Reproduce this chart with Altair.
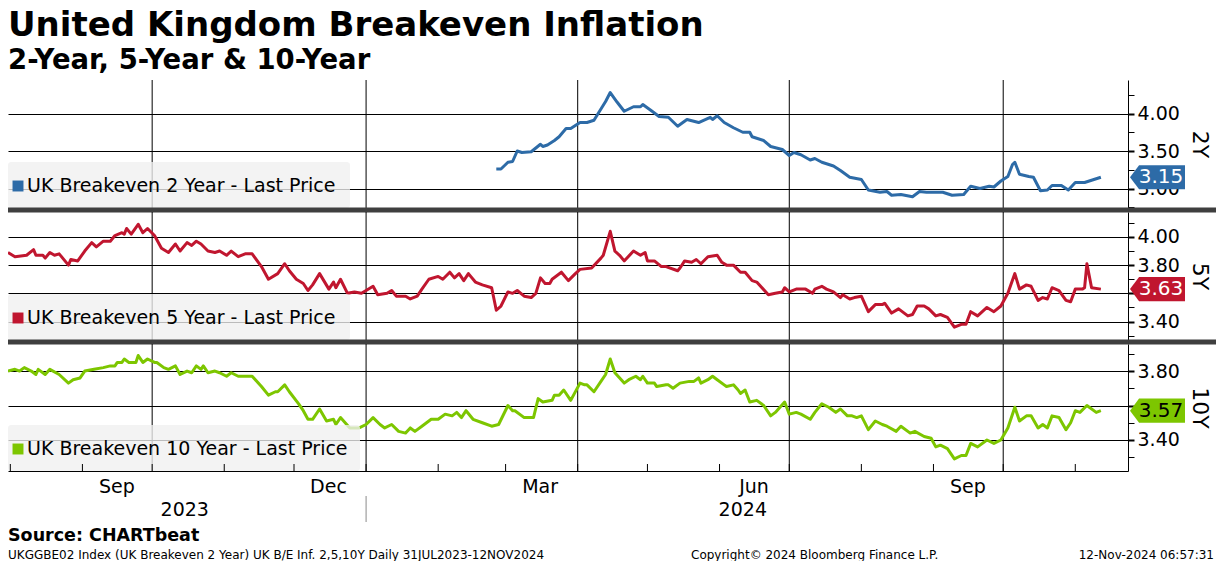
import altair as alt
import pandas as pd

# ---------------- data ----------------
dates_2y = ["2024-02-26","2024-02-28","2024-03-02","2024-03-04","2024-03-06","2024-03-08","2024-03-12","2024-03-16","2024-03-17","2024-03-19",
            "2024-03-22","2024-03-24","2024-03-27","2024-03-29","2024-04-02","2024-04-05","2024-04-08","2024-04-10","2024-04-13","2024-04-15",
            "2024-04-18","2024-04-21","2024-04-25","2024-04-28","2024-04-29","2024-05-03","2024-05-06","2024-05-10","2024-05-14","2024-05-18",
            "2024-05-23","2024-05-28","2024-05-29","2024-05-31","2024-06-03","2024-06-07","2024-06-11","2024-06-14","2024-06-15","2024-06-20",
            "2024-06-23","2024-06-28","2024-07-01","2024-07-03","2024-07-06","2024-07-10","2024-07-12","2024-07-15","2024-07-20","2024-07-23",
            "2024-07-27","2024-08-01","2024-08-04","2024-08-09","2024-08-12","2024-08-14","2024-08-18","2024-08-23","2024-08-26","2024-08-29",
            "2024-09-02","2024-09-05","2024-09-09","2024-09-14","2024-09-17","2024-09-21","2024-09-25","2024-09-27","2024-09-30","2024-10-03",
            "2024-10-05","2024-10-06","2024-10-08","2024-10-12","2024-10-14","2024-10-17","2024-10-20","2024-10-22","2024-10-26","2024-10-29",
            "2024-11-01","2024-11-05","2024-11-12"]
vals_2y = [3.26,3.26,3.35,3.36,3.50,3.48,3.49,3.59,3.56,3.58,
           3.64,3.69,3.80,3.80,3.88,3.88,3.91,4.01,4.16,4.28,
           4.15,4.03,4.09,4.09,4.12,4.03,3.96,3.95,3.83,3.92,
           3.88,3.95,3.92,3.97,3.88,3.81,3.75,3.75,3.69,3.64,
           3.56,3.52,3.44,3.48,3.45,3.38,3.40,3.35,3.30,3.24,
           3.15,3.12,2.98,2.95,2.96,2.91,2.92,2.89,2.96,2.95,
           2.95,2.95,2.91,2.92,3.03,3.00,3.03,3.02,3.10,3.16,
           3.32,3.35,3.19,3.16,3.15,2.97,2.98,3.04,3.04,2.98,
           3.08,3.08,3.15]

dates_5y = ["2023-07-31","2023-08-03","2023-08-08","2023-08-11","2023-08-12","2023-08-15","2023-08-16","2023-08-18","2023-08-20","2023-08-22",
            "2023-08-26","2023-08-27","2023-08-30","2023-09-02","2023-09-05","2023-09-07","2023-09-10","2023-09-13","2023-09-15","2023-09-18",
            "2023-09-19","2023-09-20","2023-09-22","2023-09-25","2023-09-27","2023-09-29","2023-10-02","2023-10-05","2023-10-08","2023-10-11",
            "2023-10-13","2023-10-16","2023-10-18","2023-10-20","2023-10-22","2023-10-25","2023-10-28","2023-10-30","2023-11-02","2023-11-04",
            "2023-11-07","2023-11-10","2023-11-13","2023-11-17","2023-11-20","2023-11-24","2023-11-27","2023-11-29","2023-12-02","2023-12-05",
            "2023-12-07","2023-12-09","2023-12-12","2023-12-16","2023-12-18","2023-12-19","2023-12-21","2023-12-24","2023-12-27","2023-12-30",
            "2024-01-01","2024-01-04","2024-01-06","2024-01-10","2024-01-12","2024-01-14","2024-01-18","2024-01-20","2024-01-23","2024-01-25",
            "2024-01-28","2024-02-01","2024-02-03","2024-02-06","2024-02-08","2024-02-10","2024-02-12","2024-02-14","2024-02-17","2024-02-20",
            "2024-02-24","2024-02-26","2024-02-28","2024-03-02","2024-03-04","2024-03-06","2024-03-09","2024-03-12","2024-03-14","2024-03-16",
            "2024-03-18","2024-03-20","2024-03-21","2024-03-25","2024-03-28","2024-03-31","2024-04-02","2024-04-07","2024-04-11","2024-04-12",
            "2024-04-15","2024-04-17","2024-04-19","2024-04-21","2024-04-25","2024-04-28","2024-04-30","2024-05-01","2024-05-04","2024-05-07",
            "2024-05-09","2024-05-14","2024-05-15","2024-05-17","2024-05-20","2024-05-22","2024-05-24","2024-05-27","2024-05-31","2024-06-02",
            "2024-06-04","2024-06-07","2024-06-10","2024-06-12","2024-06-15","2024-06-17","2024-06-22","2024-06-25","2024-06-28","2024-06-29",
            "2024-07-01","2024-07-04","2024-07-08","2024-07-11","2024-07-12","2024-07-15","2024-07-17","2024-07-20","2024-07-23","2024-07-24",
            "2024-07-27","2024-07-29","2024-08-01","2024-08-04","2024-08-07","2024-08-10","2024-08-11","2024-08-14","2024-08-17","2024-08-21",
            "2024-08-23","2024-08-25","2024-08-28","2024-08-30","2024-09-02","2024-09-04","2024-09-07","2024-09-10","2024-09-13","2024-09-15",
            "2024-09-17","2024-09-20","2024-09-24","2024-09-27","2024-09-30","2024-10-03","2024-10-06","2024-10-08","2024-10-11","2024-10-13",
            "2024-10-16","2024-10-18","2024-10-20","2024-10-22","2024-10-25","2024-10-28","2024-10-30","2024-11-01","2024-11-04","2024-11-05",
            "2024-11-06","2024-11-08","2024-11-12"]
vals_5y = [3.89,3.86,3.87,3.91,3.87,3.87,3.85,3.89,3.87,3.88,
           3.80,3.84,3.83,3.90,3.96,3.93,3.97,3.97,4.01,4.03,
           4.02,4.06,4.02,4.09,4.03,4.06,4.01,3.92,3.89,3.95,
           3.90,3.96,3.94,3.97,3.95,3.90,3.89,3.90,3.87,3.90,
           3.86,3.88,3.88,3.79,3.70,3.74,3.81,3.76,3.70,3.67,
           3.62,3.66,3.74,3.63,3.68,3.64,3.70,3.60,3.61,3.60,
           3.62,3.65,3.59,3.60,3.62,3.58,3.58,3.56,3.58,3.63,
           3.70,3.72,3.70,3.75,3.71,3.74,3.69,3.74,3.68,3.66,
           3.64,3.48,3.51,3.61,3.60,3.62,3.58,3.57,3.60,3.71,
           3.67,3.67,3.70,3.75,3.69,3.74,3.77,3.78,3.85,3.87,
           4.04,3.90,3.87,3.83,3.90,3.87,3.89,3.83,3.83,3.79,
           3.79,3.76,3.78,3.83,3.82,3.84,3.81,3.86,3.87,3.82,
           3.80,3.80,3.75,3.75,3.69,3.68,3.59,3.60,3.61,3.64,
           3.61,3.63,3.63,3.60,3.63,3.65,3.63,3.61,3.57,3.59,
           3.56,3.57,3.58,3.47,3.52,3.52,3.53,3.46,3.49,3.44,
           3.45,3.51,3.51,3.49,3.44,3.45,3.43,3.36,3.38,3.38,
           3.47,3.44,3.50,3.47,3.51,3.60,3.74,3.63,3.66,3.65,
           3.55,3.57,3.56,3.64,3.62,3.55,3.54,3.63,3.63,3.64,
           3.81,3.64,3.63]

dates_10y = ["2023-07-31","2023-08-03","2023-08-05","2023-08-07","2023-08-10","2023-08-12","2023-08-13","2023-08-16","2023-08-18","2023-08-22",
             "2023-08-26","2023-08-28","2023-08-31","2023-09-02","2023-09-06","2023-09-10","2023-09-13","2023-09-15","2023-09-16","2023-09-18",
             "2023-09-19","2023-09-21","2023-09-24","2023-09-25","2023-09-27","2023-09-29","2023-10-02","2023-10-03","2023-10-06","2023-10-08",
             "2023-10-11","2023-10-13","2023-10-16","2023-10-18","2023-10-20","2023-10-22","2023-10-23","2023-10-25","2023-10-28","2023-10-30",
             "2023-11-02","2023-11-04","2023-11-07","2023-11-10","2023-11-13","2023-11-17","2023-11-20","2023-11-23","2023-11-24","2023-11-27",
             "2023-11-29","2023-12-03","2023-12-05","2023-12-07","2023-12-09","2023-12-12","2023-12-15","2023-12-18","2023-12-19","2023-12-21",
             "2023-12-25","2023-12-29","2024-01-01","2024-01-04","2024-01-07","2024-01-09","2024-01-12","2024-01-15","2024-01-18","2024-01-20",
             "2024-01-22","2024-01-25","2024-01-29","2024-02-01","2024-02-04","2024-02-07","2024-02-09","2024-02-11","2024-02-13","2024-02-16",
             "2024-02-20","2024-02-24","2024-02-27","2024-03-02","2024-03-04","2024-03-05","2024-03-09","2024-03-11","2024-03-13","2024-03-15",
             "2024-03-17","2024-03-21","2024-03-22","2024-03-24","2024-03-26","2024-03-29","2024-04-02","2024-04-04","2024-04-05","2024-04-08",
             "2024-04-11","2024-04-13","2024-04-15","2024-04-17","2024-04-21","2024-04-23","2024-04-26","2024-04-28","2024-04-29","2024-05-01",
             "2024-05-04","2024-05-05","2024-05-09","2024-05-10","2024-05-12","2024-05-15","2024-05-19","2024-05-21","2024-05-23","2024-05-24",
             "2024-05-27","2024-05-29","2024-05-31","2024-06-03","2024-06-04","2024-06-07","2024-06-09","2024-06-10","2024-06-12","2024-06-14",
             "2024-06-17","2024-06-20","2024-06-23","2024-06-25","2024-06-29","2024-07-01","2024-07-04","2024-07-06","2024-07-10","2024-07-12",
             "2024-07-15","2024-07-18","2024-07-21","2024-07-23","2024-07-26","2024-07-28","2024-07-30","2024-08-01","2024-08-04","2024-08-07",
             "2024-08-10","2024-08-12","2024-08-16","2024-08-18","2024-08-22","2024-08-24","2024-08-28","2024-08-31","2024-09-02","2024-09-04",
             "2024-09-07","2024-09-10","2024-09-13","2024-09-15","2024-09-17","2024-09-20","2024-09-24","2024-09-27","2024-09-30","2024-10-03",
             "2024-10-06","2024-10-08","2024-10-11","2024-10-13","2024-10-16","2024-10-18","2024-10-20","2024-10-22","2024-10-25","2024-10-28",
             "2024-10-30","2024-11-01","2024-11-03","2024-11-06","2024-11-10","2024-11-12"]
vals_10y = [3.80,3.81,3.80,3.82,3.80,3.78,3.81,3.78,3.81,3.78,
            3.73,3.75,3.76,3.80,3.81,3.82,3.83,3.83,3.85,3.85,
            3.87,3.85,3.85,3.89,3.85,3.87,3.85,3.85,3.82,3.81,
            3.83,3.78,3.80,3.79,3.83,3.81,3.83,3.79,3.80,3.79,
            3.77,3.79,3.77,3.77,3.77,3.71,3.66,3.68,3.68,3.72,
            3.68,3.61,3.57,3.52,3.52,3.58,3.51,3.52,3.49,3.53,
            3.47,3.47,3.49,3.53,3.49,3.47,3.49,3.45,3.44,3.47,
            3.45,3.48,3.52,3.52,3.55,3.54,3.56,3.53,3.57,3.52,
            3.50,3.48,3.49,3.60,3.57,3.57,3.53,3.53,3.53,3.64,
            3.62,3.63,3.66,3.66,3.69,3.63,3.73,3.72,3.72,3.68,
            3.74,3.78,3.87,3.79,3.73,3.75,3.77,3.75,3.77,3.73,
            3.73,3.71,3.72,3.72,3.70,3.73,3.74,3.74,3.76,3.73,
            3.75,3.77,3.75,3.72,3.71,3.72,3.69,3.67,3.69,3.62,
            3.63,3.60,3.54,3.56,3.62,3.55,3.56,3.55,3.52,3.56,
            3.61,3.59,3.56,3.58,3.54,3.54,3.53,3.54,3.46,3.51,
            3.49,3.48,3.45,3.48,3.44,3.45,3.42,3.41,3.36,3.37,
            3.35,3.29,3.31,3.31,3.38,3.36,3.40,3.38,3.40,3.47,
            3.59,3.51,3.54,3.54,3.47,3.49,3.47,3.54,3.53,3.46,
            3.50,3.57,3.56,3.60,3.56,3.57]

quarter_lines = ["2023-10-01", "2024-01-01", "2024-04-01", "2024-07-01", "2024-10-01"]
month_starts = ["2023-08-01", "2023-09-01", "2023-10-01", "2023-11-01", "2023-12-01", "2024-01-01",
                "2024-02-01", "2024-03-01", "2024-04-01", "2024-05-01", "2024-06-01", "2024-07-01",
                "2024-08-01", "2024-09-01", "2024-10-01", "2024-11-01"]
year_labels = ["2023", "2024"]
year_label_dates = ["2023-10-15", "2024-06-11"]
year_break = ["2024-01-01"]

ticks_2y = [2.75, 3.00, 3.25, 3.50, 3.75, 4.00, 4.25]
ticks_5y = [3.30, 3.40, 3.50, 3.60, 3.70, 3.80, 3.90, 4.00, 4.10]
ticks_10y = [3.30, 3.40, 3.50, 3.60, 3.70, 3.80, 3.90]
# axis labels that sit completely under the last-value tag in the reference
hidden_label_5y = 360
hidden_label_10y = 360

# ---------------- styling ----------------
W = 1120
FONT = "DejaVu Sans"
BLUE = "#2d6ba7"
RED = "#c0162f"
GREEN = "#7dc600"
TAG_PATH = "M -1 0 L -0.67 -0.44 L 1 -0.44 L 1 0.44 L -0.67 0.44 Z"


def dt(s, **kw):
    y, m, d = (int(p) for p in s.split("-"))
    return alt.DateTime(year=y, month=m, date=d, utc=True, **kw)


x_scale = alt.Scale(domain=[dt("2023-07-31"), dt("2024-11-23", hours=16)])


def panel(dates, vals, color, ytitle, domain, ticks, step, legend_text, legend_w,
          tag_text_color, H, bottom=False, hidden=None):
    df = pd.DataFrame({"date": dates, "value": vals})
    last = df.iloc[[-1]]
    test = f"round(datum.value*100) % {step} == 0"
    label_test = test if hidden is None else f"{test} && round(datum.value*100) != {hidden}"
    yaxis = alt.Axis(
        orient="right", values=ticks,
        labelExpr=f"{label_test} ? format(datum.value, '.2f') : ''",
        grid=True, gridColor="black", gridWidth=1,
        gridOpacity={"condition": {"test": test, "value": 1}, "value": 0},
        domainColor="black", tickColor="black", tickSize=6,
        tickWidth={"condition": {"test": test, "value": 2}, "value": 1},
        labelFont=FONT, labelFontSize=19, labelColor="black", labelPadding=3,
        labelOverlap=False,
        title=ytitle, titleFont=FONT, titleFontSize=22, titleFontWeight="normal",
        titleColor="black", titleAngle=90, titlePadding=8,
    )
    yenc = alt.Y("value:Q", scale=alt.Scale(domain=domain, zero=False, nice=False), axis=yaxis)
    if bottom:
        xaxis = alt.Axis(
            values=[dt(m) for m in month_starts],
            labelExpr="indexof([8,11,2,5], utcmonth(datum.value)) >= 0 ? utcFormat(datum.value, '%b') : ''",
            labelOffset=34, labelFlush=False, labelOverlap=False,
            ticks=False, tickSize=0, labelPadding=6, grid=False,
            domainColor="black", labelFont=FONT, labelFontSize=19, labelColor="black",
            title=None,
        )
    else:
        xaxis = None
    xenc = alt.X("date:T", scale=x_scale, axis=xaxis)

    vrules = alt.Chart(pd.DataFrame({"date": quarter_lines})).mark_rule(
        color="black", strokeWidth=1).encode(x=xenc)
    line = alt.Chart(df).mark_line(color=color, strokeWidth=3, strokeJoin="round",
                                   clip=True).encode(x=xenc, y=yenc)

    one = pd.DataFrame({"t": [legend_text]})
    box = alt.Chart(one).mark_rect(color="#efefef", opacity=0.78, cornerRadius=3).encode(
        x=alt.value(0), x2=alt.value(legend_w), y=alt.value(H - 46), y2=alt.value(H))
    sq = alt.Chart(one).mark_square(color=color, size=120, opacity=1).encode(
        x=alt.value(10), y=alt.value(H - 22))
    ltxt = alt.Chart(one).mark_text(font=FONT, fontSize=19, align="left", baseline="middle",
                                    color="black").encode(
        x=alt.value(19), y=alt.value(H - 22), text="t:N")

    tag = alt.Chart(last).mark_point(shape=TAG_PATH, filled=True, color=color, opacity=1,
                                     size=3025, strokeWidth=0).encode(
        x=alt.value(W + 29.5), y=yenc)
    tagtxt = alt.Chart(last).mark_text(font=FONT, fontSize=20, color=tag_text_color,
                                       align="center", baseline="middle").encode(
        x=alt.value(W + 33), y=yenc, text=alt.Text("value:Q", format=".2f"))

    layers = [vrules, line, box, sq, ltxt, tag, tagtxt]

    if bottom:
        mticks = alt.Chart(pd.DataFrame({"date": month_starts})).mark_rule(color="black").encode(
            x=xenc, y=alt.value(H - 7), y2=alt.value(H))
        ylab = alt.Chart(pd.DataFrame({"date": year_label_dates, "label": year_labels})).mark_text(
            font=FONT, fontSize=19, color="black", baseline="middle").encode(
            x=xenc, y=alt.value(H + 39), text="label:N")
        ysep = alt.Chart(pd.DataFrame({"date": year_break})).mark_rule(color="#8a8a8a").encode(
            x=xenc, y=alt.value(H + 25), y2=alt.value(H + 51))
        src = alt.Chart(pd.DataFrame({"t": ["Source: CHARTbeat"]})).mark_text(
            font=FONT, fontSize=17.5, fontWeight="bold", align="left", baseline="middle",
            color="black").encode(x=alt.value(0), y=alt.value(H + 65), text="t:N")
        f1 = alt.Chart(pd.DataFrame({"t": ["UKGGBE02 Index (UK Breakeven 2 Year) UK B/E Inf. 2,5,10Y  Daily 31JUL2023-12NOV2024"]})).mark_text(
            font=FONT, fontSize=12, align="left", baseline="middle", color="black").encode(
            x=alt.value(0), y=alt.value(H + 84), text="t:N")
        f2 = alt.Chart(pd.DataFrame({"t": ["Copyright\u00a9 2024 Bloomberg Finance L.P."]})).mark_text(
            font=FONT, fontSize=12, align="left", baseline="middle", color="black").encode(
            x=alt.value(683), y=alt.value(H + 84), text="t:N")
        f3 = alt.Chart(pd.DataFrame({"t": ["12-Nov-2024 06:57:31"]})).mark_text(
            font=FONT, fontSize=12, align="right", baseline="middle", color="black").encode(
            x=alt.value(W + 86), y=alt.value(H + 84), text="t:N")
        layers += [mticks, ylab, ysep, src, f1, f2, f3]
    else:
        div = alt.Chart(one).mark_rect(color="#3f3f3f").encode(
            x=alt.value(0), x2=alt.value(W + 88), y=alt.value(H - 0.5), y2=alt.value(H + 4.5))
        layers.append(div)

    return alt.layer(*layers).properties(width=W, height=H)


p1 = panel(dates_2y, vals_2y, BLUE, "2Y", [2.74, 4.447], ticks_2y, 50,
           "UK Breakeven 2 Year - Last Price", 342, "white", 128)
p2 = panel(dates_5y, vals_5y, RED, "5Y", [3.269, 4.177], ticks_5y, 20,
           "UK Breakeven 5 Year - Last Price", 342, "white", 128, hidden=hidden_label_5y)
p3 = panel(dates_10y, vals_10y, GREEN, "10Y", [3.22, 3.957], ticks_10y, 20,
           "UK Breakeven 10 Year - Last Price", 352, "black", 127, bottom=True,
           hidden=hidden_label_10y)

chart = alt.vconcat(p1, p2, p3, spacing=4, bounds="flush").properties(
    title=alt.TitleParams(
        text="United Kingdom Breakeven Inflation",
        subtitle="2-Year, 5-Year & 10-Year",
        anchor="start", font=FONT, fontSize=34, fontWeight="bold", color="black",
        subtitleFont=FONT, subtitleFontSize=27.5, subtitleFontWeight="bold",
        subtitleColor="black", subtitlePadding=4, offset=5.5,
    ),
    padding={"left": 0, "top": 0, "right": 0, "bottom": 0},
    background="white",
).configure_view(stroke=None)

chart.save("out.html", embed_options={"renderer": "svg", "actions": False})
